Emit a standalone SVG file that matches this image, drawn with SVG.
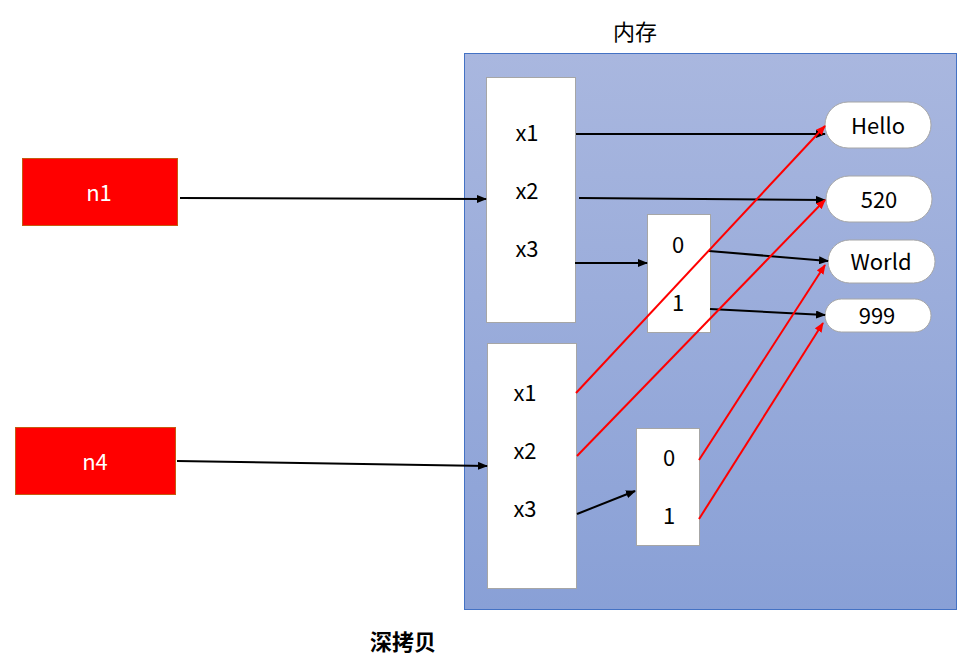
<svg xmlns="http://www.w3.org/2000/svg" width="976" height="661" viewBox="0 0 976 661">
<defs>
<linearGradient id="mem" x1="0" y1="0" x2="0" y2="1">
<stop offset="0" stop-color="#a9b7df"/>
<stop offset="1" stop-color="#89a0d6"/>
</linearGradient>
<marker id="ab" markerWidth="10" markerHeight="8" refX="9" refY="4" orient="auto" markerUnits="userSpaceOnUse">
<path d="M0,0 L10,4 L0,8 z" fill="#000"/>
</marker>
<marker id="ar" markerWidth="10" markerHeight="8" refX="9" refY="4" orient="auto" markerUnits="userSpaceOnUse">
<path d="M0,0 L10,4 L0,8 z" fill="#f00"/>
</marker>
<style>
text{font-family:"Noto Sans CJK SC","Microsoft YaHei","Noto Sans",sans-serif;font-size:22px;text-anchor:middle;dominant-baseline:central;fill:#000}
.box{fill:#fff;stroke:#a6a6a6;stroke-width:1}
.pill{fill:#fff;stroke:#a6a6a6;stroke-width:1}
.var{fill:#f00;stroke:#c55a11;stroke-width:1}
.vt{fill:#fff}
.blk{stroke:#000;stroke-width:2;fill:none;marker-end:url(#ab)}
.red{stroke:#f00;stroke-width:2;fill:none;marker-end:url(#ar)}
</style>
</defs>
<rect width="976" height="661" fill="#fff"/>
<g id="memory">
<rect x="464.5" y="53.5" width="492" height="556" fill="url(#mem)" stroke="#4472c4" stroke-width="1"/>
<text x="635" y="30">内存</text>
</g>
<g id="n1">
<rect class="var" x="22.5" y="158.5" width="155" height="67"/>
<text class="vt" x="99" y="191">n1</text>
</g>
<g id="n4">
<rect class="var" x="15.5" y="427.5" width="160" height="67"/>
<text class="vt" x="95" y="460">n4</text>
</g>
<g id="obj1">
<rect class="box" x="486.5" y="77.5" width="89" height="245"/>
<text x="527" y="131">x1</text>
<text x="527" y="189">x2</text>
<text x="527" y="247">x3</text>
</g>
<g id="arr1">
<rect class="box" x="647.5" y="214.5" width="63" height="118"/>
<text x="678" y="243">0</text>
<text x="678" y="301">1</text>
</g>
<g id="obj2">
<rect class="box" x="487.5" y="343.5" width="89" height="245"/>
<text x="525" y="391">x1</text>
<text x="525" y="449">x2</text>
<text x="525" y="507">x3</text>
</g>
<g id="arr2">
<rect class="box" x="636.5" y="428.5" width="63" height="117"/>
<text x="669" y="456">0</text>
<text x="669" y="514">1</text>
</g>
<g id="hello">
<rect class="pill" x="825" y="102" width="106" height="46" rx="23"/>
<text x="878" y="124">Hello</text>
</g>
<g id="v520">
<rect class="pill" x="826" y="176" width="106" height="46" rx="23"/>
<text x="879" y="198">520</text>
</g>
<g id="world">
<rect class="pill" x="828" y="240" width="107" height="43" rx="21.5"/>
<text x="881" y="260">World</text>
</g>
<g id="v999">
<rect class="pill" x="825" y="299" width="106" height="33" rx="16.5"/>
<text x="877" y="314">999</text>
</g>
<g id="connectors">
<line class="blk" x1="180" y1="198" x2="486" y2="199"/>
<line class="blk" x1="177" y1="461" x2="487" y2="466"/>
<line class="blk" x1="576" y1="134" x2="825" y2="134"/>
<line class="blk" x1="579" y1="198" x2="825" y2="200"/>
<line class="blk" x1="575" y1="263" x2="647" y2="263"/>
<line class="blk" x1="709" y1="251" x2="828" y2="261"/>
<line class="blk" x1="710" y1="309" x2="825" y2="315"/>
<line class="blk" x1="577" y1="514" x2="635" y2="491"/>
<line class="red" x1="576" y1="393" x2="825" y2="126"/>
<line class="red" x1="577" y1="456" x2="825" y2="200"/>
<line class="red" x1="699" y1="460" x2="825" y2="265"/>
<line class="red" x1="699" y1="519" x2="823" y2="323"/>
</g>
<text x="403" y="640" style="font-weight:bold">深拷贝</text>
</svg>
